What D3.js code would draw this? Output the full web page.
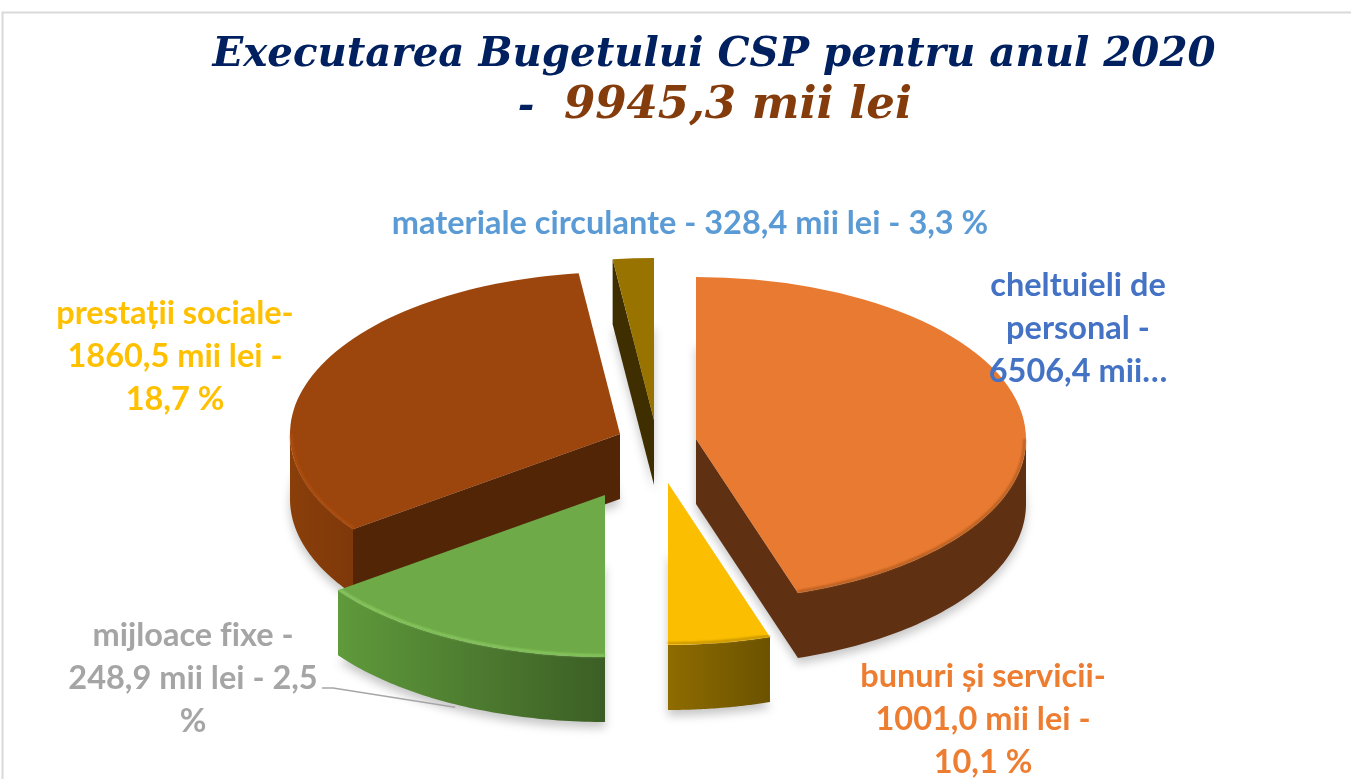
<!DOCTYPE html>
<html lang="ro">
<head>
<meta charset="utf-8">
<title>Executarea Bugetului CSP</title>
<script src="https://cdn.jsdelivr.net/npm/d3@7"></script>
<style>
    html, body { margin: 0; padding: 0; background: #fff; overflow: hidden; }
    svg { display: block; }
</style>
</head>
<body>
<div id="chart"></div>
<script>
// valorile din etichete (mii lei, %)
const categories = ['cheltuieli de personal', 'bunuri și servicii', 'mijloace fixe', 'prestații sociale', 'materiale circulante'];
const amounts = [6506.4, 1001.0, 248.9, 1860.5, 328.4];
const percents = [65.4, 10.1, 2.5, 18.7, 3.3];
// felii asa cum sunt desenate in poza (nu corespund etichetelor)
const drawnShares = [45, 5, 15, 33, 2];
const total = 9945.3;

const fmt = v => v.toFixed(1).replace('.', ',');

const labelLines = [
    ['cheltuieli de', 'personal -', `${fmt(amounts[0])} mii…`],
    ['bunuri și servicii-', `${fmt(amounts[1])} mii lei -`, `${fmt(percents[1])} %`],
    ['mijloace fixe -', `${fmt(amounts[2])} mii lei - ${fmt(percents[2])}`, '%'],
    ['prestații sociale-', `${fmt(amounts[3])} mii lei -`, `${fmt(percents[3])} %`],
    [`materiale circulante - ${fmt(amounts[4])} mii lei - ${fmt(percents[4])} %`]
];

const width = 1351;
const height = 779;
const rx = 330;
const ry = 162;
const depth = 65;
const center = { x: 650, y: 437 };

// explozia fiecarei felii fata de centru
const explode = [[46, 2], [18, 46], [-45, 58], [-30, -3], [4, -17]];
const topColors = ['#e97a31', '#fbbe00', '#6eaa47', '#9c450c', '#997300'];
const cutColors = ['#5f3012', '#6b5200', '#3c5e25', '#532507', '#3f2f00'];
const sideFrom = ['#5f3012', '#8f6c00', '#5f9a3b', '#8a3f0a', '#3f2f00'];
const sideTo = ['#5f3012', '#6b5200', '#3c5e25', '#7f380a', '#3f2f00'];
const rimColors = ['#a8571f', '#b58800', '#8fd065', '#b04f10', '#997300'];
const labelColors = ['#4472c4', '#ed7d31', '#a5a5a5', '#ffc000', '#5b9bd5'];
const labelAnchor = [[1078, 296], [983, 687], [193, 646], [175, 324], [690, 234]];
const drawOrder = [4, 3, 0, 1, 2];

const svg = d3.select('#chart').append('svg')
    .attr('width', width)
    .attr('height', height);

const defs = svg.append('defs');

defs.append('filter').attr('id', 'shadow-blur')
    .attr('x', '-20%').attr('y', '-20%').attr('width', '140%').attr('height', '140%')
    .append('feGaussianBlur').attr('stdDeviation', 5);

defs.append('filter').attr('id', 'rim-blur')
    .attr('x', '-5%').attr('y', '-5%').attr('width', '110%').attr('height', '110%')
    .append('feGaussianBlur').attr('stdDeviation', 0.9);

topColors.forEach((c, i) => {
    const grad = defs.append('linearGradient').attr('id', `side-${i}`);
    grad.append('stop').attr('offset', '0%').attr('stop-color', sideFrom[i]);
    grad.append('stop').attr('offset', '100%').attr('stop-color', sideTo[i]);
});

// chenarul graficului
svg.append('rect')
    .attr('x', 2.5)
    .attr('y', 12.5)
    .attr('width', width + 20)
    .attr('height', height + 20)
    .attr('fill', '#fff')
    .attr('stroke', '#d9d9d9')
    .attr('stroke-width', 2);

const slices = d3.pie().sort(null).value(d => d)(drawnShares);
const arc = d3.arc().innerRadius(0).outerRadius(rx);
const line = d3.line();

const apex = i => ({ x: center.x + explode[i][0], y: center.y + explode[i][1] });
const rimPoint = (i, a, drop = 0, inset = 0) => [
    apex(i).x + (rx - inset) * Math.sin(a),
    apex(i).y - (ry - inset) * Math.cos(a) + drop
];
const rimPoints = (i, a0, a1, drop = 0, inset = 0) =>
    d3.range(0, 61).map(k => rimPoint(i, a0 + (a1 - a0) * k / 60, drop, inset));

// umbra de sub felii
const shadows = svg.append('g').attr('filter', 'url(#shadow-blur)');
slices.forEach((d, i) => {
    shadows.append('path')
        .attr('d', arc(d))
        .attr('transform', `translate(${apex(i).x},${apex(i).y + depth + 6}) scale(1,${ry / rx})`)
        .attr('fill', '#000')
        .attr('opacity', 0.22);
});

drawOrder.forEach(i => {
    const d = slices[i];
    const g = svg.append('g');
    const a = apex(i);

    // fata taiata, vizibila doar cand e orientata spre privitor
    [[d.startAngle, Math.sin(d.startAngle) < -1e-6], [d.endAngle, Math.sin(d.endAngle) > 1e-6]]
        .filter(c => c[1])
        .forEach(c => {
            const p = rimPoint(i, c[0]);
            g.append('path')
                .attr('d', line([[a.x, a.y], p, [p[0], p[1] + depth], [a.x, a.y + depth]]) + 'Z')
                .attr('fill', cutColors[i]);
        });

    // peretele exterior, doar partea din fata
    const front0 = Math.max(d.startAngle, Math.PI / 2);
    const front1 = Math.min(d.endAngle, Math.PI * 1.5);
    if (front1 > front0) {
        const outline = rimPoints(i, front0, front1)
            .concat(rimPoints(i, front1, front0, depth));
        g.append('path')
            .attr('d', line(outline) + 'Z')
            .attr('fill', `url(#side-${i})`);
    }

    g.append('path')
        .attr('d', arc(d))
        .attr('transform', `translate(${a.x},${a.y}) scale(1,${ry / rx})`)
        .attr('fill', topColors[i]);

    if (front1 > front0) {
        g.append('path')
            .attr('d', line(rimPoints(i, front0, front1, 0, 1.5)))
            .attr('fill', 'none')
            .attr('stroke', rimColors[i])
            .attr('stroke-width', 2)
            .attr('filter', 'url(#rim-blur)');
    }
});

// linia de legatura pentru mijloace fixe
const leaderEnd = rimPoint(2, (slices[2].startAngle + slices[2].endAngle) / 2, depth + 3);
svg.append('path')
    .attr('d', line([[322, 688], [333, 688], leaderEnd]))
    .attr('fill', 'none')
    .attr('stroke', '#a6a6a6')
    .attr('stroke-width', 1.5);

// etichete
labelLines.forEach((lines, i) => {
    const text = svg.append('text')
        .attr('text-anchor', 'middle')
        .attr('font-family', 'Lato, sans-serif')
        .attr('font-weight', 700)
        .attr('font-size', 32.5)
        .style('font-variant-ligatures', 'none')
        .attr('fill', labelColors[i]);
    lines.forEach((l, k) => {
        text.append('tspan')
            .attr('x', labelAnchor[i][0])
            .attr('y', labelAnchor[i][1] + k * 43)
            .text(l);
    });
});

// titlu
const title = svg.append('g')
    .attr('font-family', '"DejaVu Serif", serif')
    .attr('font-weight', 700)
    .attr('font-style', 'italic')
    .attr('text-anchor', 'middle');

title.append('text')
    .attr('x', 714)
    .attr('y', 66)
    .attr('font-size', 40.3)
    .attr('fill', '#002060')
    .text('Executarea Bugetului CSP pentru anul 2020');

title.append('text')
    .attr('x', 526)
    .attr('y', 118)
    .attr('font-size', 40)
    .attr('fill', '#002060')
    .text('-');

title.append('text')
    .attr('x', 738)
    .attr('y', 118)
    .attr('font-size', 45)
    .attr('fill', '#843c0c')
    .text(`${total.toString().replace('.', ',')} mii lei`);
</script>
</body>
</html>
